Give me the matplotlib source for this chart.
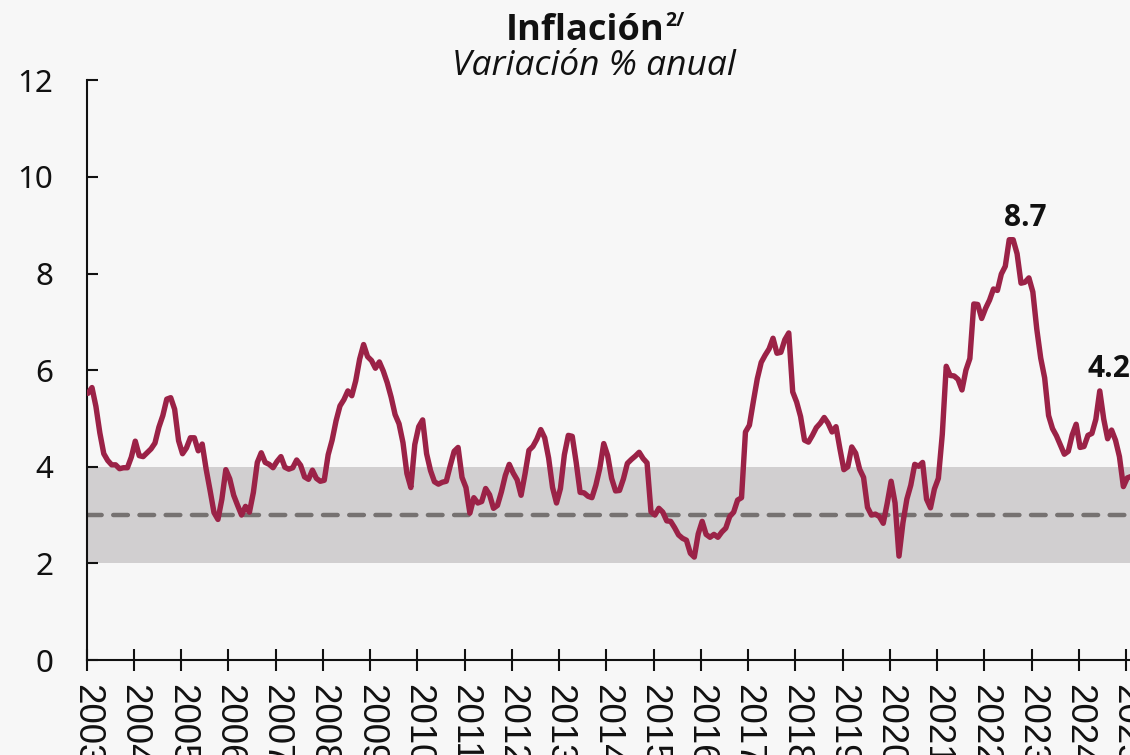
import numpy as np
import pandas as pd
import matplotlib
matplotlib.use("Agg")
import matplotlib.pyplot as plt
from matplotlib import font_manager as fm

# ---------------- data ----------------
start_month = "2003-02"  # first observation shown
inflacion = [
    # 2003 (Feb-Dec)
    5.52, 5.64, 5.25, 4.70, 4.27, 4.13, 4.04, 4.04, 3.96, 3.98, 3.98,
    # 2004
    4.20, 4.53, 4.23, 4.21, 4.29, 4.37, 4.49, 4.82, 5.06, 5.40, 5.43, 5.19,
    # 2005
    4.54, 4.27, 4.39, 4.60, 4.60, 4.33, 4.47, 3.95, 3.51, 3.05, 2.91, 3.33,
    # 2006
    3.94, 3.75, 3.41, 3.20, 3.00, 3.18, 3.06, 3.47, 4.09, 4.29, 4.09, 4.05,
    # 2007
    3.98, 4.11, 4.21, 3.99, 3.95, 3.98, 4.14, 4.03, 3.79, 3.74, 3.93, 3.76,
    # 2008
    3.70, 3.72, 4.25, 4.55, 4.95, 5.26, 5.39, 5.57, 5.47, 5.78, 6.23, 6.53,
    # 2009
    6.28, 6.20, 6.04, 6.17, 5.98, 5.74, 5.44, 5.08, 4.89, 4.50, 3.86, 3.57,
    # 2010
    4.46, 4.83, 4.97, 4.27, 3.92, 3.69, 3.64, 3.68, 3.70, 4.02, 4.32, 4.40,
    # 2011
    3.78, 3.57, 3.04, 3.36, 3.25, 3.28, 3.55, 3.42, 3.14, 3.20, 3.48, 3.82,
    # 2012
    4.05, 3.87, 3.73, 3.41, 3.85, 4.34, 4.42, 4.57, 4.77, 4.60, 4.18, 3.57,
    # 2013
    3.25, 3.55, 4.25, 4.65, 4.63, 4.09, 3.47, 3.46, 3.39, 3.36, 3.62, 3.97,
    # 2014
    4.48, 4.23, 3.76, 3.50, 3.51, 3.75, 4.07, 4.15, 4.22, 4.30, 4.17, 4.08,
    # 2015
    3.07, 3.00, 3.14, 3.06, 2.88, 2.87, 2.74, 2.59, 2.52, 2.48, 2.21, 2.13,
    # 2016
    2.61, 2.87, 2.60, 2.54, 2.60, 2.54, 2.65, 2.73, 2.97, 3.06, 3.31, 3.36,
    # 2017
    4.72, 4.86, 5.35, 5.82, 6.16, 6.31, 6.44, 6.66, 6.35, 6.37, 6.63, 6.77,
    # 2018
    5.55, 5.34, 5.04, 4.55, 4.51, 4.65, 4.81, 4.90, 5.02, 4.90, 4.72, 4.83,
    # 2019
    4.37, 3.94, 4.00, 4.41, 4.28, 3.95, 3.78, 3.16, 3.00, 3.02, 2.97, 2.83,
    # 2020
    3.24, 3.70, 3.25, 2.15, 2.84, 3.33, 3.62, 4.05, 4.01, 4.09, 3.33, 3.15,
    # 2021
    3.54, 3.76, 4.67, 6.08, 5.89, 5.88, 5.81, 5.59, 6.00, 6.24, 7.37, 7.36,
    # 2022
    7.07, 7.28, 7.45, 7.68, 7.65, 7.99, 8.15, 8.70, 8.70, 8.41, 7.80, 7.82,
    # 2023
    7.91, 7.62, 6.85, 6.25, 5.84, 5.06, 4.79, 4.64, 4.45, 4.26, 4.32, 4.66,
    # 2024
    4.88, 4.40, 4.42, 4.65, 4.69, 4.98, 5.57, 4.99, 4.58, 4.76, 4.55, 4.21,
    # 2025
    3.59, 3.77, 3.80, 3.93, 4.42, 4.32,
]
year_ticks = list(range(2003, 2026))
meta_central = 3.0
intervalo = (2.0, 4.0)
etiquetas = [("2022-08", "8.7"), ("2024-07", "4.2")]

# ---------------- style ----------------
BG = "#f7f7f7"
LINE = "#9b2247"
BAND = "#d1cfd0"
DASH = "#767271"
OFF = -0.055  # horizontal placement of monthly points relative to year ticks

_bold = {f.name for f in fm.fontManager.ttflist
         if f.weight in ("bold", 700) or (isinstance(f.weight, int) and f.weight >= 600)}
_ital = {f.name for f in fm.fontManager.ttflist if f.style == "italic"}
BOLD_FAMILY = "DejaVu Sans"
for cand in ["Open Sans", "Noto Sans", "Lato", "Roboto"]:
    if cand in _bold:
        BOLD_FAMILY = cand
        break
ITAL_FAMILY = "Noto Sans"
for cand in ["Open Sans", "Noto Sans"]:
    if cand in _ital:
        ITAL_FAMILY = cand
        break

fechas = pd.date_range(start_month, periods=len(inflacion), freq="MS")
xdec = fechas.year + (fechas.month - 1) / 12.0 + OFF

fig = plt.figure(figsize=(11.3, 7.55), dpi=100, facecolor=BG)
ax = fig.add_axes([86.7 / 1130, 95.0 / 755, 1084 / 1130, 579.7 / 755])
ax.set_facecolor(BG)
ax.patch.set_alpha(0)

ax.axhspan(intervalo[0], intervalo[1], color=BAND, zorder=1, lw=0)
ax.axhline(meta_central, color=DASH, lw=3.2, ls=(0, (3.3, 2.6)),
           dash_capstyle="round", zorder=2)
ax.plot(xdec, inflacion, color=LINE, lw=3.9, solid_joinstyle="round",
        solid_capstyle="round", zorder=3)

ax.set_xlim(2003.0, 2003.0 + 1084 / 47.24)
ax.set_ylim(0, 12)
ax.set_yticks(range(0, 13, 2))
ax.set_yticklabels([str(v) for v in range(0, 13, 2)], fontfamily="Noto Sans",
                   fontsize=22.6)
ax.set_xticks(year_ticks)
ax.set_xticklabels([str(y) for y in year_ticks], rotation=-90,
                   fontfamily="Liberation Sans", fontsize=26.5)

for s in ["top", "right"]:
    ax.spines[s].set_visible(False)
for s in ["left", "bottom"]:
    ax.spines[s].set_linewidth(1.5)
    ax.spines[s].set_color("#111111")

ax.tick_params(axis="y", direction="in", length=8, width=1.5, pad=24,
               colors="#111111", labelcolor="#111111")
ax.tick_params(axis="x", direction="inout", length=16, width=1.5, pad=9,
               colors="#111111", labelcolor="#111111")

# data labels
for fecha, txt in etiquetas:
    f = pd.Timestamp(fecha)
    i = list(fechas).index(f)
    ax.annotate(txt, (xdec[i], inflacion[i]),
                xytext=(-3.5 if txt == "8.7" else -9.0, 10),
                textcoords="offset points", ha="left", va="baseline",
                fontfamily=BOLD_FAMILY, fontweight="bold", fontsize=21.5,
                color="#111111", annotation_clip=False, zorder=5)

# titles
t_main = fig.text(585 / 1130, 1 - 40 / 755, "Inflación", ha="center",
                  va="baseline", fontfamily=BOLD_FAMILY, fontweight="bold",
                  fontsize=26, color="#111111")
fig.canvas.draw()
bb = t_main.get_window_extent(fig.canvas.get_renderer())
fig.text(bb.x1 / fig.bbox.width + 1 / 1130, 1 - 26 / 755, "2/", ha="left",
         va="baseline", fontfamily=BOLD_FAMILY, fontweight="bold",
         fontsize=14, color="#111111")
fig.text(594 / 1130, 1 - 75 / 755, "Variación % anual", ha="center",
         va="baseline", fontfamily=ITAL_FAMILY, fontstyle="italic",
         fontsize=25.5, color="#111111")

fig.savefig("out.png", dpi=100, facecolor=BG)
